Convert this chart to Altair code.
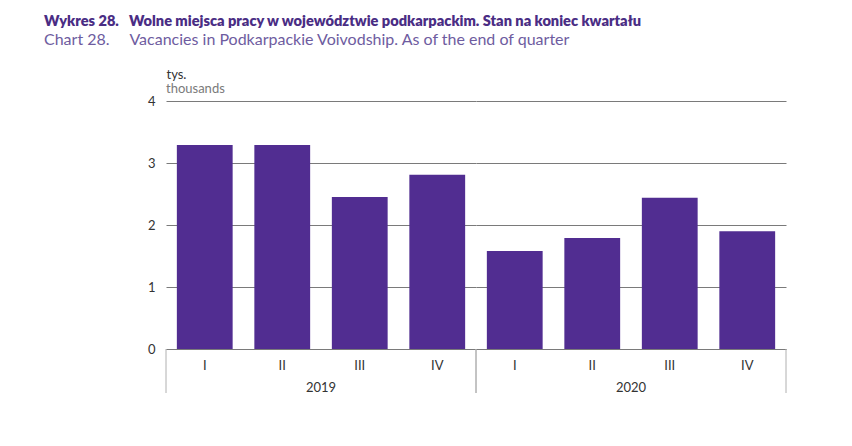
import altair as alt
import pandas as pd

years = ["2019", "2019", "2019", "2019", "2020", "2020", "2020", "2020"]
quarters = ["I", "II", "III", "IV", "I", "II", "III", "IV"]
values = [3.29, 3.29, 2.45, 2.81, 1.58, 1.79, 2.44, 1.90]

df = pd.DataFrame({"year": years, "quarter": quarters, "value": values})

FONT = "Lato"
BAR = "#512D91"
PW, PH = 310, 248

base = alt.Chart()

bars = base.mark_bar(color=BAR).encode(
    x=alt.X("quarter:N", sort=["I", "II", "III", "IV"],
            scale=alt.Scale(paddingInner=0.28, paddingOuter=0.14),
            axis=alt.Axis(title=None, labelAngle=0, ticks=False, domainColor="#8a8a8a",
                          labelPadding=10, labelFontSize=13, labelColor="#333333",
                          labelFont=FONT, grid=False)),
    y=alt.Y("value:Q", scale=alt.Scale(domain=[0, 4]),
            axis=alt.Axis(values=[0, 1, 2, 3, 4], title="tys.", titleAngle=0,
                          titleAlign="left", titleBaseline="alphabetic", titleX=0, titleY=-23,
                          titleFontWeight="normal", titleFontSize=13, titleColor="#333333",
                          titleFont=FONT, domain=False, ticks=False, labelPadding=11,
                          labelFontSize=13, labelColor="#333333", labelFont=FONT,
                          gridColor="#7a7a7a", gridWidth=1)),
)

rule_left = base.mark_rule(color="#b0b0b0", strokeWidth=1).encode(
    x=alt.value(0), y=alt.value(PH), y2=alt.value(PH + 44)
).transform_filter(alt.datum.quarter == "I")

rule_right = base.mark_rule(color="#b0b0b0", strokeWidth=1).encode(
    x=alt.value(PW), y=alt.value(PH), y2=alt.value(PH + 44)
).transform_filter(alt.datum.quarter == "IV")

thousands = base.mark_text(align="left", baseline="alphabetic", fontSize=13,
                           font=FONT, color="#7a7a7a").encode(
    x=alt.value(0), y=alt.value(-8), text=alt.value("thousands")
).transform_filter((alt.datum.quarter == "I") & (alt.datum.year == "2019"))

layer = alt.layer(bars, rule_left, rule_right, thousands, data=df).properties(width=PW, height=PH)

nb = "\u00a0"
chart = layer.facet(
    column=alt.Column("year:N", title=None,
                      header=alt.Header(labelOrient="bottom", labelFontSize=13, labelFont=FONT,
                                        labelColor="#333333", labelPadding=10)),
    spacing=0,
    bounds="flush",
).properties(
    title=alt.TitleParams(
        text="Wykres 28." + nb * 3 + "Wolne miejsca pracy w województwie podkarpackim. Stan na koniec kwartału",
        subtitle="Chart 28." + nb * 5 + "Vacancies in Podkarpackie Voivodship. As of the end of quarter",
        anchor="start", frame="group", dx=-122, offset=20,
        font=FONT, fontSize=14.6, fontWeight=800, color="#4A2D84",
        subtitleFont=FONT, subtitleFontSize=16, subtitleColor="#6E5CA0", subtitlePadding=3,
    ),
    padding={"left": 44, "top": 14, "right": 10, "bottom": 10},
).configure_view(stroke=None)

chart.save("out.html", embed_options={"renderer": "svg", "actions": False})
